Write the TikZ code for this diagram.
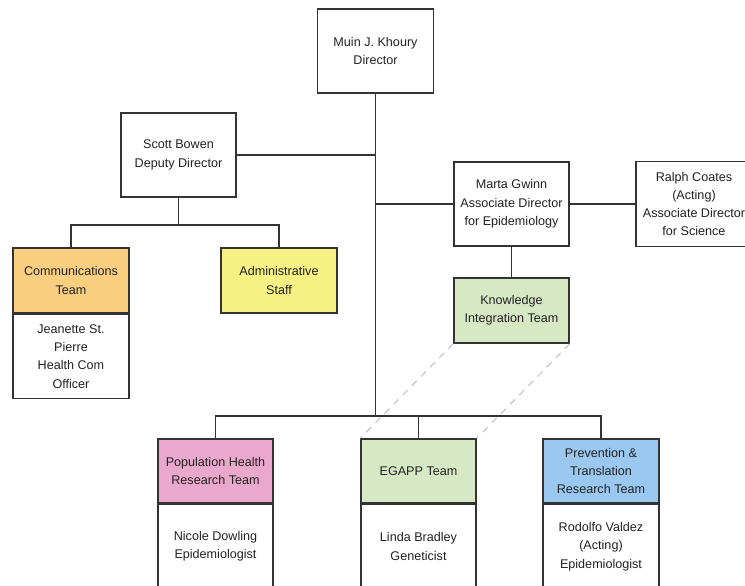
\documentclass[tikz,border=0pt]{standalone}
\usepackage{fontspec}
\setmainfont{Liberation Sans}
\definecolor{lin}{HTML}{333333}
\definecolor{txt}{HTML}{222222}
\definecolor{orng}{RGB}{250,208,128}
\definecolor{yel}{RGB}{246,241,130}
\definecolor{grn}{RGB}{214,232,196}
\definecolor{pnk}{RGB}{234,168,204}
\definecolor{blu}{RGB}{155,200,240}
\begin{document}
\begin{tikzpicture}[x=1pt,y=-1pt,
  box/.style={draw=lin, line width=1.5pt, rectangle, minimum width=116pt, align=center, inner sep=0pt,
    font=\fontsize{12.6}{18.3}\selectfont, text=txt},
  conn/.style={draw=lin, line width=1.5pt},
  dotrel/.style={draw=black!25, line width=1pt, dash pattern=on 7pt off 6pt}]
\useasboundingbox (0,0) rectangle (745,586);
\clip (0,0) rectangle (745,586);
\fill[white] (0,0) rectangle (745,586);

\node[box, minimum height=84pt] (dir) at (375.5,51) {Muin J. Khoury\\Director};
\node[box, minimum height=84pt, minimum width=115pt] (scott) at (178.5,155) {Scott Bowen\\Deputy Director};
\node[box, minimum height=84pt, minimum width=115pt] (marta) at (511.5,204) {Marta Gwinn\\Associate Director\\for Epidemiology};
\node[box, minimum height=85pt] (ralph) at (694,204) {Ralph Coates\\(Acting)\\Associate Director\\for Science};
\node[box, minimum height=65pt, minimum width=115pt, fill=grn] (kit) at (511.5,310.5) {Knowledge\\Integration Team};

\node[box, minimum height=65pt, fill=orng] (comm) at (71,280.5) {Communications\\Team};
\node[box, minimum height=84pt, anchor=north] (commb) at (comm.south) {Jeanette St.\\Pierre\\Health Com\\Officer};
\node[box, minimum height=65pt, fill=yel] (admin) at (279,280.5) {Administrative\\Staff};

\node[box, minimum height=64pt, minimum width=115pt, fill=pnk] (pop) at (215.5,471) {Population Health\\Research Team};
\node[box, minimum height=84pt, minimum width=115pt, anchor=north] (popb) at (pop.south) {Nicole Dowling\\Epidemiologist};
\node[box, minimum height=64pt, minimum width=115pt, fill=grn] (egapp) at (418.5,471) {EGAPP Team};
\node[box, minimum height=84pt, minimum width=115pt, anchor=north] (egappb) at (egapp.south) {Linda Bradley\\Geneticist};
\node[box, minimum height=64pt, fill=blu] (prev) at (601,471) {Prevention \&\\Translation\\Research Team};
\node[box, minimum height=84pt, anchor=north] (prevb) at (prev.south) {Rodolfo Valdez\\(Acting)\\Epidemiologist};

\coordinate (bus) at (216,416);
\coordinate (sbus) at (178.5,225);

\draw[conn] (dir.south) -- (dir.south |- bus);
\draw[conn] (pop.north) |- (bus -| prev.north) -- (prev.north);
\draw[conn] (egapp.north) -- (egapp.north |- bus);
\draw[conn] (scott.east) -- (scott.east -| dir.south);
\draw[conn] (scott.south) -- (sbus);
\draw[conn] (comm.north) |- (sbus) -| (admin.north);
\draw[conn] (marta.west -| dir.south) -- (marta.west);
\draw[conn] (marta.east) -- (ralph.west);
\draw[conn] (marta.south) -- (kit.north);
\draw[dotrel] (kit.south west) -- (egapp.north west);
\draw[dotrel] (kit.south east) -- (egapp.north east);
\end{tikzpicture}
\end{document}
